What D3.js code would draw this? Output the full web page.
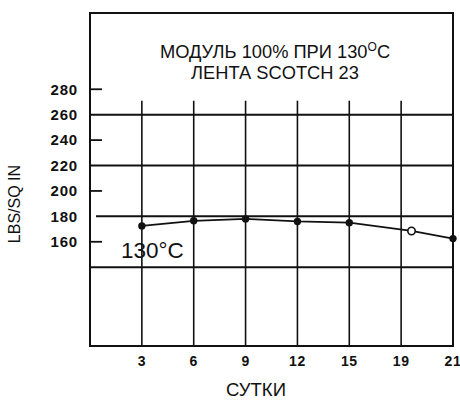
<!DOCTYPE html>
<html><head><meta charset="utf-8">
<script src="https://cdn.jsdelivr.net/npm/d3@7"></script>
<style>body{margin:0;background:#fff}svg{display:block}</style>
</head><body>
<svg id="c" width="460" height="401"></svg>
<script>
// Data
const xTickDays = [0, 3, 6, 9, 12, 15, 19, 21];
const xTickLabels = ["3", "6", "9", "12", "15", "19", "21"];
const yTickValues = [280, 260, 240, 220, 200, 180, 160];
const yHeavyLines = [260, 220, 180, 140];
const yShortTicks = [280, 240, 200, 160];
const pointDays = [3, 6, 9, 12, 15, 19.4, 21];
const pointValues = [172.5, 176.5, 178, 176, 175, 168.5, 162.5];
const pointOpen = [false, false, false, false, false, true, false];
const titleLine1 = "МОДУЛЬ 100% ПРИ 130";
const titleLine2 = "ЛЕНТА SCOTCH 23";
const curveLabel = "130°C";
const xTitle = "СУТКИ";
const yTitle = "LBS/SQ IN";

const svg = d3.select("#c");
const L = 90, R = 453, T = 13, B = 346;
const step = (R - L) / (xTickDays.length - 1);
const x = d3.scaleLinear().domain(xTickDays).range(xTickDays.map((d, i) => L + i * step));
const y = d3.scaleLinear().domain([78, 340]).range([B, T]);
const ink = "#111";
const tf = "Liberation Sans, Arial, sans-serif";

// frame
svg.append("rect").attr("x", L).attr("y", T).attr("width", R - L).attr("height", B - T)
  .attr("fill", "none").attr("stroke", ink).attr("stroke-width", 2);

// vertical grid lines
svg.append("g").selectAll("line").data(xTickDays.slice(1, -1)).join("line")
  .attr("x1", d => x(d)).attr("x2", d => x(d))
  .attr("y1", y(271)).attr("y2", B)
  .attr("stroke", ink).attr("stroke-width", 1.6);

// heavy horizontal lines
svg.append("g").selectAll("line").data(yHeavyLines).join("line")
  .attr("x1", d => d === 180 ? L + 6 : L).attr("x2", R)
  .attr("y1", d => y(d)).attr("y2", d => y(d))
  .attr("stroke", ink).attr("stroke-width", 2);

// short ticks
svg.append("g").selectAll("line").data(yShortTicks).join("line")
  .attr("x1", L).attr("x2", L + 12)
  .attr("y1", d => y(d)).attr("y2", d => y(d))
  .attr("stroke", ink).attr("stroke-width", 1.8);

// y tick labels
svg.append("g").selectAll("text").data(yTickValues).join("text")
  .attr("x", 78).attr("y", d => y(d)).attr("dy", "0.36em")
  .attr("text-anchor", "end")
  .attr("font-family", tf).attr("font-weight", "bold")
  .attr("font-size", 15).attr("letter-spacing", 0.8).attr("fill", ink)
  .text(d => d);

// x tick labels
svg.append("g").selectAll("text").data(xTickLabels).join("text")
  .attr("x", (d, i) => x(xTickDays[i + 1])).attr("y", 361).attr("dy", "0.36em")
  .attr("text-anchor", "middle")
  .attr("font-family", tf).attr("font-weight", "bold")
  .attr("font-size", 14).attr("letter-spacing", 0.6).attr("fill", ink)
  .text(d => d);

// data line
const pts = pointDays.map((d, i) => ({ d, v: pointValues[i], open: pointOpen[i] }));
svg.append("path").datum(pts)
  .attr("d", d3.line().x(p => x(p.d)).y(p => y(p.v)))
  .attr("fill", "none").attr("stroke", ink).attr("stroke-width", 1.8);
svg.append("g").selectAll("circle").data(pts).join("circle")
  .attr("cx", p => x(p.d)).attr("cy", p => y(p.v))
  .attr("r", 3.7)
  .attr("fill", p => p.open ? "#fff" : ink)
  .attr("stroke", ink).attr("stroke-width", p => p.open ? 1.6 : 0);

// titles
const t1 = svg.append("text").attr("x", 275).attr("y", 58).attr("text-anchor", "middle")
  .attr("font-family", tf).attr("font-size", 18.3).attr("fill", ink);
t1.append("tspan").text(titleLine1);
t1.append("tspan").attr("font-size", 12).attr("dy", -7).text("O");
t1.append("tspan").attr("dy", 7).text("C");
svg.append("text").attr("x", 275).attr("y", 79).attr("text-anchor", "middle")
  .attr("font-family", tf).attr("font-size", 18.3).attr("fill", ink).text(titleLine2);

// curve label
svg.append("text").attr("x", 121).attr("y", 258)
  .attr("font-family", tf).attr("font-size", 22.5).attr("fill", ink).text(curveLabel);

// axis titles
svg.append("text").attr("x", 256).attr("y", 396).attr("text-anchor", "middle")
  .attr("font-family", tf).attr("font-size", 18.5).attr("fill", ink).text(xTitle);
svg.append("text").attr("transform", "translate(20,204) rotate(-90)").attr("text-anchor", "middle")
  .attr("font-family", tf).attr("font-size", 16).attr("fill", ink).text(yTitle);
</script>
</body></html>
